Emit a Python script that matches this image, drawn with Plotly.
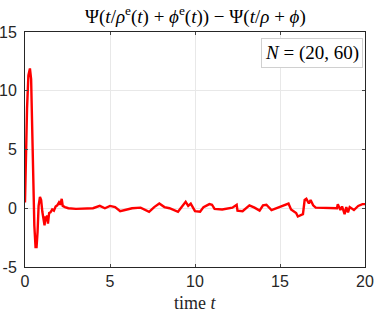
import plotly.graph_objects as go

t = [0, 0.05, 0.12, 0.2, 0.29, 0.36, 0.42, 0.48, 0.55, 0.62, 0.68, 0.74, 0.8, 0.88,
     0.95, 1.02, 1.1, 1.15, 1.2, 1.25, 1.3, 1.35, 1.42, 1.5, 1.6, 1.7, 1.8, 1.9, 2.0,
     2.08, 2.16, 2.22, 2.35, 2.55, 3.0, 3.5, 4.0, 4.4, 4.7, 5.0, 5.3, 5.6, 5.9, 6.3,
     6.8, 7.06, 7.3, 7.6, 7.9, 8.2, 8.5, 9.0, 9.3, 9.45, 9.6, 9.75, 10.0, 10.3, 10.5,
     10.85, 11.0, 11.15, 11.6, 12.2, 12.45, 12.5, 12.8, 13.2, 13.5, 13.8, 14.0, 14.2,
     14.5, 15.0, 15.5, 15.65, 15.95, 16.05, 16.2, 16.35, 16.45, 16.55, 16.7, 16.8,
     16.95, 17.1, 18.35, 18.4, 18.55, 18.65, 18.8, 18.9, 19.0, 19.1, 19.35, 19.6,
     19.85, 20.0]
diff = [0.5, 4, 8.5, 11.3, 11.9, 11, 7, 2, -1.5, -3.3, -3.3, -2, 0.2, 0.96,
        0.7, -0.3, -1.2, -1.45, -0.7, -1.1, -0.6, -1.3, -0.4, -0.35, -0.1, -0.2, 0.15, 0.25, 0.5,
        0.3, 0.8, 0.2, 0.1, 0.0, -0.05, -0.05, 0.0, 0.2, 0.0, 0.2, 0.1, -0.25, -0.15, 0.0,
        0.05, -0.15, -0.3, 0.1, 0.4, 0.1, 0.0, -0.3, 0.3, 0.55, 0.2, 0.4, -0.25, -0.3, 0.1,
        0.35, 0.3, -0.05, -0.1, 0.05, 0.3, -0.2, -0.25, 0.25, 0.05, -0.2, 0.25, 0.3,
        -0.15, 0.1, 0.4, -0.1, -0.4, -0.7, -0.6, -0.5, 0.7, 0.8, 0.4, 0.7,
        0.25, 0.05, 0.0, 0.35, -0.15, 0.15, -0.5, 0.1, -0.35, 0.1, -0.15, 0.2,
        0.35, 0.35]

x_ticks = [0, 5, 10, 15, 20]
y_ticks = [-5, 0, 5, 10, 15]
y_tick_labels = ["-5", "0", "5", "10", "15"]

title_text = ("Ψ(<i>t</i>/<i>ρ</i><sup>e</sup>(<i>t</i>) + <i>ϕ</i><sup>e</sup>(<i>t</i>))"
              " − Ψ(<i>t</i>/<i>ρ</i> + <i>ϕ</i>)")
legend_text = "<i>N</i> = (20, 60)"
xlabel_text = "time <i>t</i>"

axis_color = "#262626"
serif = "Liberation Serif, DejaVu Serif, serif"
sans = "Liberation Sans, Arial, sans-serif"

W, H = 374, 312
L, R, T, B = 25, 9, 32, 45

fig = go.Figure()
fig.add_trace(go.Scatter(x=t, y=diff, mode="lines",
                         line=dict(color="#ff0000", width=2.4), showlegend=False))

fig.update_layout(
    width=W, height=H,
    margin=dict(l=L, r=R, t=T, b=B, autoexpand=False),
    plot_bgcolor="white", paper_bgcolor="white",
    font=dict(family=sans, size=16, color=axis_color),
)
fig.update_xaxes(range=[0, 20], tickvals=x_ticks, ticks="inside", ticklen=3,
                 showline=True, linecolor=axis_color, linewidth=1, mirror="ticks",
                 showgrid=True, gridcolor="#e8e8e8", gridwidth=1, zeroline=False,
                 automargin=False,
                 tickfont=dict(family=sans, size=16, color=axis_color))
fig.update_yaxes(range=[-5, 15], tickvals=y_ticks, ticktext=y_tick_labels, ticks="inside",
                 ticklen=3, showline=True, linecolor=axis_color, linewidth=1, mirror="ticks",
                 showgrid=True, gridcolor="#e8e8e8", gridwidth=1, zeroline=False,
                 automargin=False, ticklabelstandoff=4,
                 tickfont=dict(family=sans, size=16, color=axis_color))

# title
fig.add_annotation(text=title_text, xref="paper", yref="paper", x=0.5, y=1 + 17 / (H - T - B),
                   xanchor="center", yanchor="middle", showarrow=False,
                   font=dict(family=serif, size=19, color="black"))
# x label
fig.add_annotation(text=xlabel_text, xref="paper", yref="paper", x=0.5, y=-36 / (H - T - B),
                   xanchor="center", yanchor="middle", showarrow=False,
                   font=dict(family=serif, size=18, color=axis_color))
# legend box
fig.add_annotation(text=legend_text, xref="paper", yref="paper", x=1 - 2 / (W - L - R),
                   y=1 - 6 / (H - T - B),
                   xanchor="right", yanchor="top", showarrow=False,
                   font=dict(family=serif, size=19, color="black"),
                   bgcolor="white", bordercolor="#d0d0d0", borderwidth=1, borderpad=3)

fig.write_html("out.html", config={"displayModeBar": False},
               post_script="document.body.style.margin='0';document.body.style.overflow='hidden';")
